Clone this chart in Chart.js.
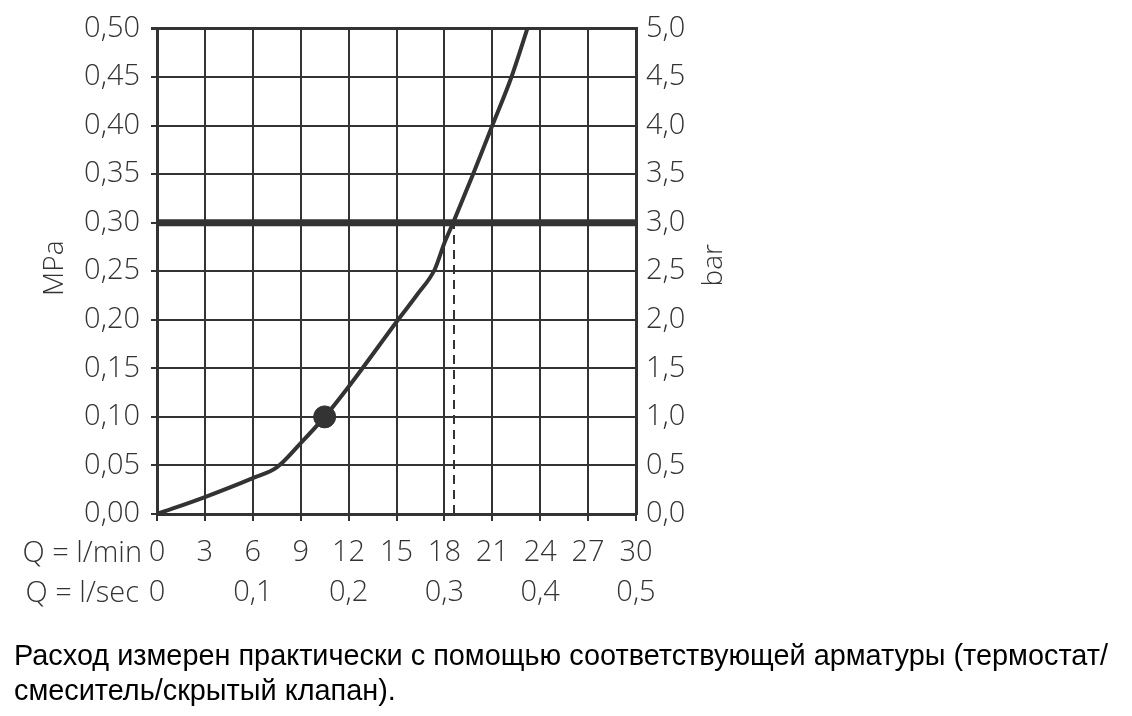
<!DOCTYPE html>
<html>
<head>
<meta charset="utf-8">
<script src="https://cdn.jsdelivr.net/npm/chart.js@4.4.1/dist/chart.umd.min.js"></script>
<style>
  html, body { margin: 0; padding: 0; background: #fff; }
  #wrap { position: relative; width: 1132px; height: 716px; overflow: hidden; }
  #c { position: absolute; left: 0; top: 0; }
  #caption { position: absolute; left: 14px; top: 638px; font-family: "Liberation Sans", Arial, sans-serif;
             font-size: 25px; line-height: 35px; color: #000; white-space: nowrap; }
</style>
</head>
<body>
<div id="wrap">
  <canvas id="c" width="1132" height="716"></canvas>
  <div id="caption"><span id="l1">Расход измерен практически с помощью соответствующей арматуры (термостат/</span><br><span>смеситель/скрытый клапан).</span></div>
</div>
<script>
// ---- data ----
const flowLmin = [0, 3, 6, 7.5, 9, 10.5, 12, 15.1, 16.3, 17.4, 18, 18.55, 19.8, 21, 22.2, 23.2];
const pressureMPa = [0, 0.0175, 0.037, 0.048, 0.073, 0.10, 0.131, 0.20, 0.226, 0.252, 0.279, 0.30, 0.35, 0.40, 0.45, 0.50];
const markerFlow = [10.5];
const markerPressure = [0.10];
const limitFlow = [0, 30];
const limitPressure = [0.30, 0.30];
const dashFlow = [18.6, 18.6];
const dashPressure = [0, 0.30];

const xTickValues = [0, 3, 6, 9, 12, 15, 18, 21, 24, 27, 30];
const xTickLmin = ['0', '3', '6', '9', '12', '15', '18', '21', '24', '27', '30'];
const xTickLsec = ['0', '', '0,1', '', '0,2', '', '0,3', '', '0,4', '', '0,5'];
const mpaTickValues = [0, 0.05, 0.10, 0.15, 0.20, 0.25, 0.30, 0.35, 0.40, 0.45, 0.50];
const mpaTickLabels = ['0,00', '0,05', '0,10', '0,15', '0,20', '0,25', '0,30', '0,35', '0,40', '0,45', '0,50'];
const barTickValues = [0, 0.5, 1.0, 1.5, 2.0, 2.5, 3.0, 3.5, 4.0, 4.5, 5.0];
const barTickLabels = ['0,0', '0,5', '1,0', '1,5', '2,0', '2,5', '3,0', '3,5', '4,0', '4,5', '5,0'];

const INK = '#333333';
const FAMILY = '"Open Sans", sans-serif';
const TICK_FONT_X = { family: FAMILY, size: 29, weight: '300', lineHeight: 1.4 };
const TICK_FONT_Y = { family: FAMILY, size: 29, weight: '300' };

const toPts = (xs, ys) => xs.map((x, i) => ({ x: x, y: ys[i] }));

const extraText = {
  id: 'extraText',
  afterDraw(chart) {
    const ctx = chart.ctx;
    const a = chart.chartArea;
    ctx.save();
    ctx.fillStyle = INK;
    ctx.font = '300 29px ' + FAMILY;
    ctx.textAlign = 'right';
    ctx.textBaseline = 'middle';
    ctx.fillText('Q = l/min', a.left - 15, a.bottom + 40);
    ctx.fillText('Q = l/sec', a.left - 18, a.bottom + 80);
    ctx.font = '300 28px ' + FAMILY;
    ctx.textAlign = 'center';
    ctx.translate(a.left - 102, (a.top + a.bottom) / 2 - 3);
    ctx.rotate(-Math.PI / 2);
    ctx.fillText('MPa', 0, 0);
    ctx.restore();
    ctx.save();
    ctx.fillStyle = INK;
    ctx.font = '300 28px ' + FAMILY;
    ctx.textAlign = 'center';
    ctx.textBaseline = 'middle';
    ctx.translate(a.right + 78, (a.top + a.bottom) / 2 - 6);
    ctx.rotate(-Math.PI / 2);
    ctx.fillText('bar', 0, 0);
    ctx.restore();
  }
};

new Chart(document.getElementById('c'), {
  type: 'line',
  data: {
    datasets: [
      { data: toPts(limitFlow, limitPressure), borderColor: INK, borderWidth: 7, pointRadius: 0, order: 3 },
      { data: toPts(dashFlow, dashPressure), borderColor: INK, borderWidth: 2, borderDash: [9, 6], pointRadius: 0, order: 2 },
      { data: toPts(flowLmin, pressureMPa), borderColor: INK, borderWidth: 4, pointRadius: 0,
        cubicInterpolationMode: 'monotone', borderCapStyle: 'round', order: 1 },
      { type: 'scatter', data: toPts(markerFlow, markerPressure), backgroundColor: INK, borderColor: INK,
        pointRadius: 11, order: 0 }
    ]
  },
  options: {
    responsive: false,
    animation: false,
    events: [],
    layout: { padding: { top: 28, left: 0, right: 0, bottom: 0 } },
    plugins: { legend: { display: false }, tooltip: { enabled: false } },
    scales: {
      x: {
        type: 'linear', min: 0, max: 30,
        afterFit(s) { s.height = 202; },
        afterBuildTicks(s) { s.ticks = xTickValues.map(v => ({ value: v })); },
        ticks: {
          color: INK, font: TICK_FONT_X, padding: 11, maxRotation: 0, autoSkip: false,
          callback: (v) => { const i = xTickValues.indexOf(v); return [xTickLmin[i], xTickLsec[i]]; }
        },
        grid: { color: INK, lineWidth: 2, tickLength: 7 },
        border: { color: INK, width: 3 }
      },
      y: {
        type: 'linear', position: 'left', min: 0, max: 0.5,
        afterFit(s) { s.width = 157; },
        afterBuildTicks(s) { s.ticks = mpaTickValues.map(v => ({ value: v })); },
        ticks: {
          color: INK, font: TICK_FONT_Y, padding: 11, autoSkip: false,
          callback: (v) => mpaTickLabels[mpaTickValues.findIndex(t => Math.abs(t - v) < 1e-9)]
        },
        grid: { color: INK, lineWidth: (c) => (c.tick && Math.abs(c.tick.value - 0.5) < 1e-9 ? 3 : 2), tickLength: 6 },
        border: { color: INK, width: 3 }
      },
      y1: {
        type: 'linear', position: 'right', min: 0, max: 5,
        afterFit(s) { s.width = 1132 - 636; },
        afterBuildTicks(s) { s.ticks = barTickValues.map(v => ({ value: v })); },
        ticks: {
          color: INK, font: TICK_FONT_Y, padding: 10, autoSkip: false,
          callback: (v) => barTickLabels[barTickValues.findIndex(t => Math.abs(t - v) < 1e-9)]
        },
        grid: { display: true, drawOnChartArea: false, drawTicks: false, color: INK },
        border: { color: INK, width: 3 }
      }
    }
  },
  plugins: [extraText]
});

// fit caption line width to the reference (about 1094 px)
(function () {
  const l1 = document.getElementById('l1');
  const cap = document.getElementById('caption');
  const w = l1.getBoundingClientRect().width;
  if (w > 0) {
    const fs = 25 * 1094 / w;
    cap.style.fontSize = fs.toFixed(2) + 'px';
  }
})();
</script>
</body>
</html>
